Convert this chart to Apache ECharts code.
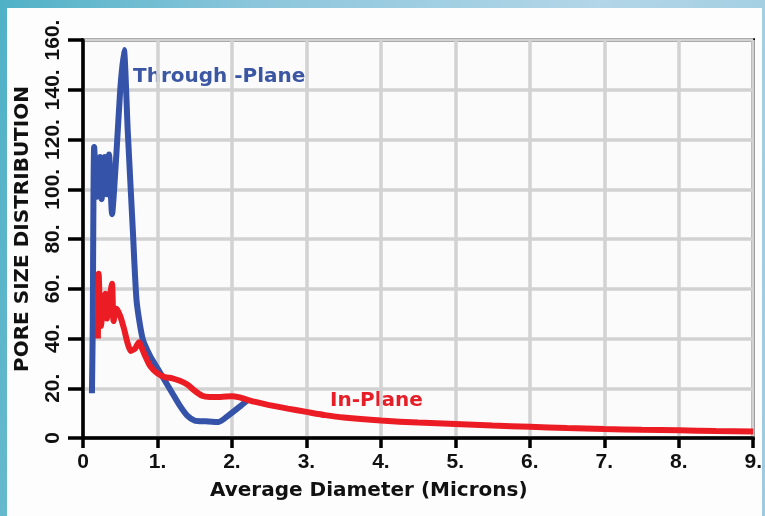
<!DOCTYPE html>
<html>
<head>
<meta charset="utf-8">
<script src="https://cdn.jsdelivr.net/npm/echarts@6/dist/echarts.min.js"></script>
<style>
  html, body { margin: 0; padding: 0; }
  #chart {
    width: 765px; height: 516px;
    background: linear-gradient(100deg, #4fb1c6 0%, #8cc6dc 30%, #b3d6e8 70%, #9ccbe0 100%);
  }
</style>
</head>
<body>
<div id="chart"></div>
<script>
// 刻度标签
const xTickLabels = ['0', '1.', '2.', '3.', '4.', '5.', '6.', '7.', '8.', '9.'];
const yTickLabels = ['0', '20.', '40.', '60.', '80.', '100.', '120.', '140.', '160.'];

// Through-Plane 曲线 [直径, 分布]
const throughPlane = [
  [0.12, 18], [0.13, 42], [0.15, 117], [0.19, 97], [0.23, 113], [0.25, 96],
  [0.29, 113], [0.32, 98], [0.35, 114], [0.39, 90], [0.45, 115], [0.5, 140],
  [0.55, 156], [0.6, 124], [0.67, 83], [0.72, 55], [0.8, 40], [0.9, 33],
  [1.0, 28], [1.1, 23], [1.2, 18], [1.3, 13], [1.4, 9], [1.5, 7],
  [1.65, 6.7], [1.82, 6.4], [1.95, 9], [2.1, 12.5], [2.2, 15]
];

// In-Plane 曲线
const inPlane = [
  [0.2, 40], [0.21, 66], [0.24, 45], [0.27, 52], [0.3, 58], [0.32, 48],
  [0.35, 55], [0.39, 62], [0.41, 47], [0.45, 52], [0.5, 49], [0.55, 44],
  [0.6, 38], [0.64, 35], [0.7, 36], [0.75, 38.5], [0.82, 34], [0.9, 29],
  [1.0, 26], [1.1, 24.5], [1.2, 24], [1.3, 23], [1.4, 21.5], [1.5, 19],
  [1.6, 17], [1.7, 16.5], [1.85, 16.5], [2.0, 16.8], [2.1, 16.3], [2.3, 14.6],
  [2.5, 13.2], [2.75, 11.8], [3.0, 10.5], [3.25, 9.2], [3.5, 8.2], [4.0, 7],
  [4.5, 6.2], [5.0, 5.6], [5.5, 5.0], [6.0, 4.5], [6.5, 4.0], [7.0, 3.6],
  [7.5, 3.3], [8.0, 3.1], [8.5, 2.8], [9.0, 2.6]
];

const myChart = echarts.init(document.getElementById('chart'));

const option = {
  animation: false,
  backgroundColor: 'transparent',
  graphic: [
    {
      type: 'rect', z: -10, silent: true,
      shape: { x: 7, y: 8, width: 755, height: 508 },
      style: { fill: '#fdfdfd' }
    },
    {
      type: 'text', left: 133, top: 67,
      style: { text: 'Through -Plane', fill: '#3b56a3', font: 'bold 20px "DejaVu Sans"' }
    },
    {
      type: 'text', left: 330, top: 391,
      style: { text: 'In-Plane', fill: '#e61e28', font: 'bold 20px "DejaVu Sans"' }
    },
    {
      type: 'text', left: 210, top: 481,
      style: { text: 'Average Diameter (Microns)', fill: '#111', font: 'bold 20px "DejaVu Sans"' }
    },
    {
      type: 'text', x: 13, y: 229, rotation: Math.PI / 2,
      style: {
        text: 'PORE SIZE DISTRIBUTION', fill: '#111', font: 'bold 20px "DejaVu Sans"',
        align: 'center', verticalAlign: 'top'
      }
    }
  ],
  grid: {
    left: 83, right: 11, top: 40, bottom: 78,
    show: true,
    backgroundColor: '#fbfbfb',
    borderColor: '#000',
    borderWidth: 3.5
  },
  xAxis: {
    type: 'value',
    min: 0, max: 9, interval: 1,
    axisLine: { show: true, lineStyle: { color: '#000', width: 3.5 } },
    axisTick: { show: true, length: 10, lineStyle: { color: '#000', width: 3.5 } },
    axisLabel: {
      margin: 14,
      color: '#111',
      fontFamily: 'Liberation Sans',
      fontWeight: 'bold',
      fontSize: 21,
      formatter: (v) => xTickLabels[Math.round(v)]
    },
    splitLine: { show: true, lineStyle: { color: '#d2d2d2', width: 3.5 } }
  },
  yAxis: {
    type: 'value',
    min: 0, max: 160, interval: 20,
    axisLine: { show: true, lineStyle: { color: '#000', width: 3.5 } },
    axisTick: { show: true, length: 15, lineStyle: { color: '#000', width: 3.5 } },
    axisLabel: {
      margin: 19,
      rotate: 90,
      color: '#111',
      fontFamily: 'Liberation Sans',
      fontWeight: 'bold',
      fontSize: 21,
      formatter: (v) => yTickLabels[Math.round(v / 20)]
    },
    splitLine: { show: true, lineStyle: { color: '#d2d2d2', width: 3.5 } }
  },
  series: [
    {
      name: 'Through-Plane',
      type: 'line',
      showSymbol: false,
      smooth: 0.2,
      lineStyle: { color: '#3553a8', width: 6 },
      data: throughPlane,
      z: 3
    },
    {
      name: 'In-Plane',
      type: 'line',
      showSymbol: false,
      smooth: 0.2,
      lineStyle: { color: '#ec1c24', width: 6 },
      data: inPlane,
      z: 4
    }
  ]
};

myChart.setOption(option);
</script>
</body>
</html>
